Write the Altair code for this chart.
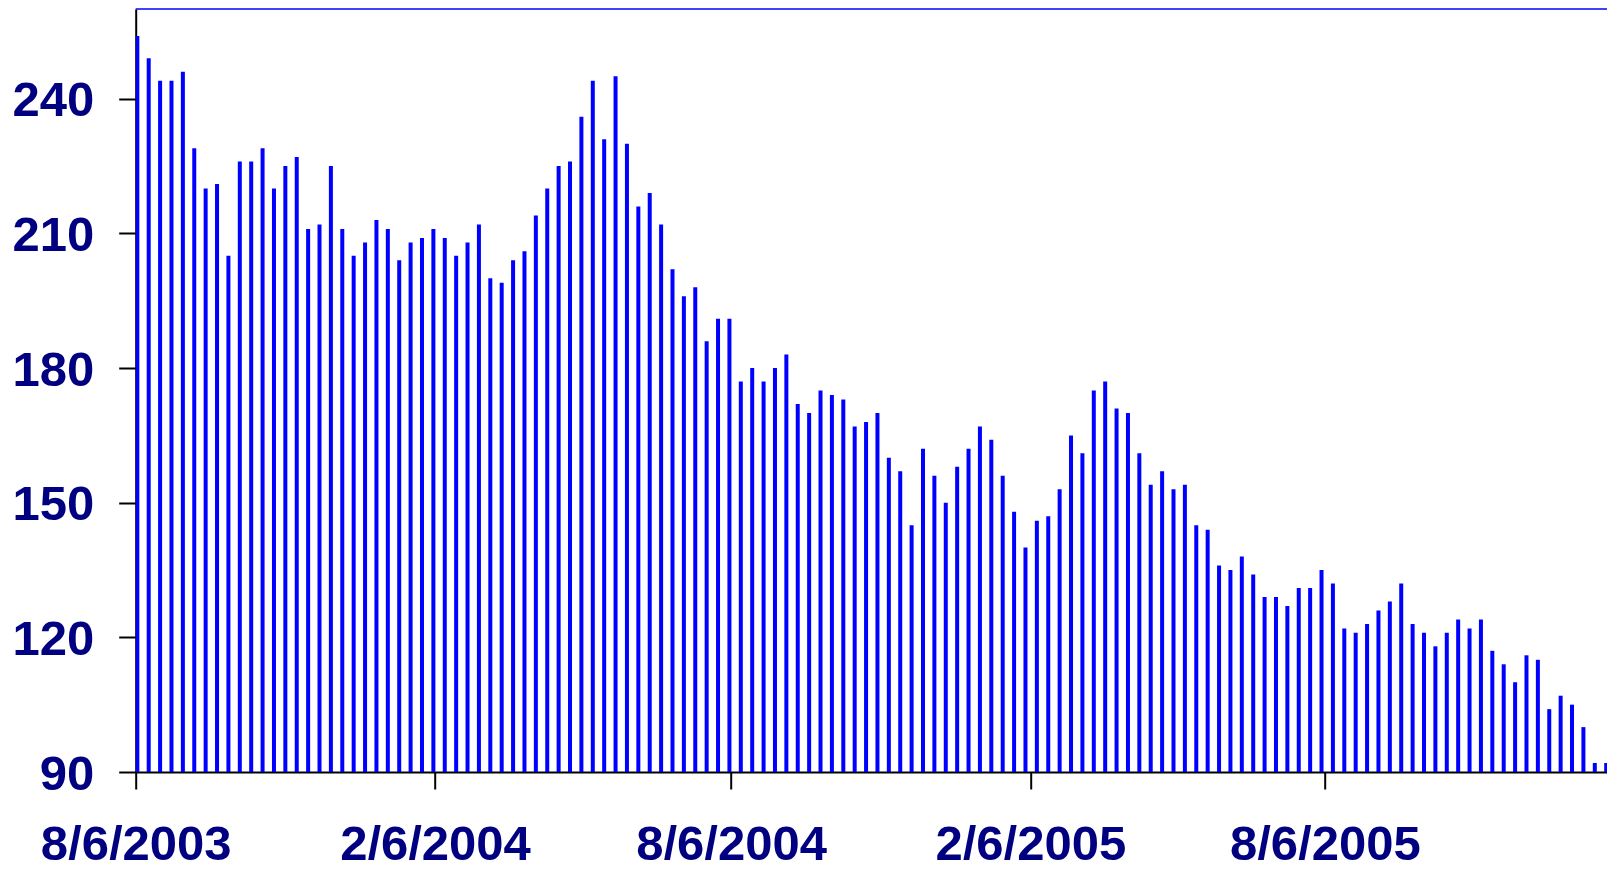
import altair as alt
import pandas as pd

# Weekly series, first bar on 2003-08-07
START_DATE = "2003-08-07"
VALUES = [
    254, 249, 244, 244, 246, 229, 220, 221, 205, 226,
    226, 229, 220, 225, 227, 211, 212, 225, 211, 205,
    208, 213, 211, 204, 208, 209, 211, 209, 205, 208,
    212, 200, 199, 204, 206, 214, 220, 225, 226, 236,
    244, 231, 245, 230, 216, 219, 212, 202, 196, 198,
    186, 191, 191, 177, 180, 177, 180, 183, 172, 170,
    175, 174, 173, 167, 168, 170, 160, 157, 145, 162,
    156, 150, 158, 162, 167, 164, 156, 148, 140, 146,
    147, 153, 165, 161, 175, 177, 171, 170, 161, 154,
    157, 153, 154, 145, 144, 136, 135, 138, 134, 129,
    129, 127, 131, 131, 135, 132, 122, 121, 123, 126,
    128, 132, 123, 121, 118, 121, 124, 122, 124, 117,
    114, 110, 116, 115, 104, 107, 105, 100, 92, 92,
]

TICK_KEYS = ["2003-08-06", "2004-02-06", "2004-08-06", "2005-02-06", "2005-08-06"]
TICK_LABELS = ["8/6/2003", "2/6/2004", "8/6/2004", "2/6/2005", "8/6/2005"]
Y_TICKS = [90, 120, 150, 180, 210, 240]
Y_DOMAIN = [90, 260]
BASELINE = 90

dates = pd.date_range(START_DATE, periods=len(VALUES), freq="7D").strftime("%Y-%m-%dT00:00:00")
df = pd.DataFrame({"date": list(dates), "value": VALUES})


def dt(s, hours=0):
    y, m, d = (int(p) for p in s.split("-"))
    return alt.DateTime(year=y, month=m, date=d, hours=hours)


tick_values = [dt(k) for k in TICK_KEYS]
keys_js = "[" + ",".join("'%s'" % k for k in TICK_KEYS) + "]"
labels_js = "[" + ",".join("'%s'" % l for l in TICK_LABELS) + "]"
label_expr = f"{labels_js}[indexof({keys_js}, timeFormat(datum.value, '%Y-%m-%d'))]"

FONT = "Liberation Sans"
LABEL_COLOR = "#000080"

x_axis = alt.Axis(
    values=tick_values,
    labelExpr=label_expr,
    title=None,
    grid=False,
    tickSize=17,
    tickWidth=2,
    tickColor="black",
    domainColor="black",
    domainWidth=2,
    labelFont=FONT,
    labelFontWeight="bold",
    labelFontSize=49,
    labelColor=LABEL_COLOR,
    labelPadding=31,
    labelFlush=False,
    labelOverlap=False,
    labelLimit=0,
)
y_axis = alt.Axis(
    values=Y_TICKS,
    title=None,
    grid=False,
    tickSize=17,
    tickWidth=2,
    tickColor="black",
    domainColor="black",
    domainWidth=2,
    labelFont=FONT,
    labelFontWeight="bold",
    labelFontSize=49,
    labelColor=LABEL_COLOR,
    labelPadding=25,
    labelOffset=2,
    labelOverlap=False,
    labelLimit=0,
)

bars = alt.Chart(df).mark_rule(color="#0000FF", strokeWidth=4, clip=True).encode(
    x=alt.X(
        "date:T",
        scale=alt.Scale(domain=[dt("2003-08-06"), dt("2006-01-26", hours=12)]),
        axis=x_axis,
    ),
    y=alt.Y("value:Q", scale=alt.Scale(domain=Y_DOMAIN, nice=False, zero=False), axis=y_axis),
    y2=alt.datum(BASELINE),
)

top_line = alt.Chart(pd.DataFrame({"v": [Y_DOMAIN[1]]})).mark_rule(
    color="#0000FF", strokeWidth=1.5
).encode(y=alt.Y("v:Q"))

chart = (
    alt.layer(bars, top_line)
    .properties(
        width=1471.3,
        height=763,
        autosize=alt.AutoSizeParams(type="none"),
        padding={"left": 127.7, "top": 1, "right": 0, "bottom": 88},
        background="white",
    )
    .configure_view(stroke=None)
)

chart.save("out.html", embed_options={"renderer": "svg", "actions": False})
